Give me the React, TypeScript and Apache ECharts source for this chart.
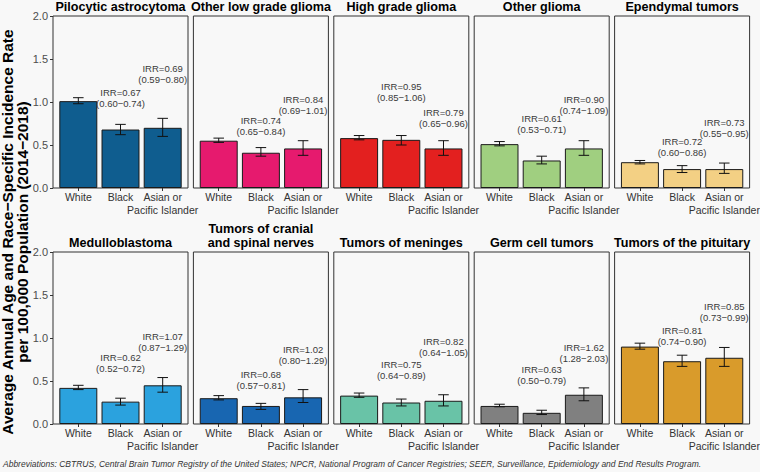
import React, { useEffect, useRef } from "react";
import * as echarts from "echarts";

const tumorTypes = [
  "Pilocytic astrocytoma",
  "Other low grade glioma",
  "High grade glioma",
  "Other glioma",
  "Ependymal tumors",
  "Medulloblastoma",
  "Tumors of cranial\nand spinal nerves",
  "Tumors of meninges",
  "Germ cell tumors",
  "Tumors of the pituitary",
];
const races = ["White", "Black", "Asian or\nPacific Islander"];

const rateWhite = [1.01, 0.55, 0.58, 0.51, 0.3, 0.42, 0.3, 0.33, 0.21, 0.9];
const lowWhite = [0.98, 0.53, 0.56, 0.49, 0.28, 0.4, 0.28, 0.31, 0.2, 0.87];
const highWhite = [1.05, 0.58, 0.61, 0.54, 0.32, 0.45, 0.33, 0.36, 0.23, 0.94];

const rateBlack = [0.68, 0.41, 0.56, 0.32, 0.22, 0.26, 0.21, 0.25, 0.13, 0.73];
const lowBlack = [0.62, 0.37, 0.5, 0.28, 0.18, 0.22, 0.17, 0.21, 0.11, 0.67];
const highBlack = [0.74, 0.47, 0.61, 0.37, 0.26, 0.3, 0.24, 0.29, 0.16, 0.8];

const rateAsian = [0.7, 0.46, 0.46, 0.46, 0.22, 0.45, 0.31, 0.27, 0.34, 0.77];
const lowAsian = [0.6, 0.38, 0.38, 0.38, 0.17, 0.37, 0.25, 0.21, 0.27, 0.67];
const highAsian = [0.81, 0.55, 0.55, 0.55, 0.29, 0.54, 0.4, 0.34, 0.42, 0.89];

const irrBlack = ["0.67", "0.74", "0.95", "0.61", "0.72", "0.62", "0.68", "0.75", "0.63", "0.81"];
const ciBlack = ["0.60−0.74", "0.65−0.84", "0.85−1.06", "0.53−0.71", "0.60−0.86", "0.52−0.72", "0.57−0.81", "0.64−0.89", "0.50−0.79", "0.74−0.90"];
const irrAsian = ["0.69", "0.84", "0.79", "0.90", "0.73", "1.07", "1.02", "0.82", "1.62", "0.85"];
const ciAsian = ["0.59−0.80", "0.69−1.01", "0.65−0.96", "0.74−1.09", "0.55−0.95", "0.87−1.29", "0.80−1.29", "0.64−1.05", "1.28−2.03", "0.73−0.99"];

// vertical anchor (in rate units) of each IRR annotation
const labelYBlack = [1.045, 0.72, 1.12, 0.74, 0.475, 0.707, 0.517, 0.63, 0.566, 1.02];
const labelYAsian = [1.325, 0.96, 0.815, 0.96, 0.7, 0.95, 0.8, 0.895, 0.83, 1.3];

const colors = [
  "#0f5d8f", "#e61a6e", "#e3201f", "#a0cf80", "#f3d084",
  "#2ba2de", "#1866b1", "#69c3a7", "#808080", "#d99b2b",
];

const footnote =
  "Abbreviations: CBTRUS, Central Brain Tumor Registry of the United States; NPCR, National Program of Cancer Registries; SEER, Surveillance, Epidemiology and End Results Program.";
const yTitle1 = "Average Annual Age and Race−Specific Incidence Rate";
const yTitle2 = "per 100,000 Population (2014−2018)";

const FONT = "'Liberation Sans', Arial, Helvetica, sans-serif";
const BG = "#f8f8f8";

export default function App() {
  const ref = useRef<HTMLDivElement>(null);
  useEffect(() => {
    if (!ref.current) return;
    const chart = echarts.init(ref.current, null, { renderer: "svg" });

    const PW = 135;
    const PH = 172;
    const lefts = [53, 193.4, 333.8, 474.2, 614.6];
    const tops = [16, 252];
    const panel = (i: number) => ({
      left: lefts[i % 5],
      top: tops[Math.floor(i / 5)],
    });
    const barW = (PW / 3.2) * 0.9;

    const grids: any[] = [];
    const xAxes: any[] = [];
    const yAxes: any[] = [];
    const series: any[] = [];
    const graphics: any[] = [];

    tumorTypes.forEach((name, i) => {
      const p = panel(i);
      const firstCol = i % 5 === 0;
      grids.push({
        left: p.left,
        top: p.top,
        width: PW,
        height: PH,
        show: true,
        borderColor: "#333",
        borderWidth: 1,
        backgroundColor: "transparent",
        containLabel: false,
      });
      xAxes.push({
        gridIndex: i,
        type: "value",
        min: 0.4,
        max: 3.6,
        splitLine: { show: false },
        axisLine: { show: false },
        axisTick: {
          show: true,
          customValues: [1, 2, 3],
          length: 3,
          lineStyle: { color: "#333", width: 1 },
        },
        axisLabel: { show: false },
      });
      yAxes.push({
        gridIndex: i,
        type: "value",
        min: 0,
        max: 2,
        interval: 0.5,
        splitLine: { show: false },
        axisLine: { show: false },
        axisTick: {
          show: firstCol,
          length: 3,
          lineStyle: { color: "#333", width: 1 },
        },
        axisLabel: {
          show: firstCol,
          formatter: (v: number) => v.toFixed(1),
          fontSize: 11,
          color: "#4d4d4d",
          margin: 5,
          fontFamily: FONT,
        },
      });

      const rates = [rateWhite[i], rateBlack[i], rateAsian[i]];
      const lows = [lowWhite[i], lowBlack[i], lowAsian[i]];
      const highs = [highWhite[i], highBlack[i], highAsian[i]];

      series.push({
        type: "bar",
        xAxisIndex: i,
        yAxisIndex: i,
        barWidth: barW,
        silent: true,
        data: rates.map((r, j) => [j + 1, r]),
        itemStyle: { color: colors[i], borderColor: "#1a1a1a", borderWidth: 1 },
        z: 2,
      });
      series.push({
        type: "custom",
        xAxisIndex: i,
        yAxisIndex: i,
        silent: true,
        z: 3,
        data: rates.map((_, j) => [j + 1, lows[j], highs[j]]),
        encode: { x: 0, y: [1, 2] },
        renderItem: (params: any, api: any) => {
          const x = api.value(0);
          const lo = api.coord([x, api.value(1)]);
          const hi = api.coord([x, api.value(2)]);
          const hw = api.size([0.125, 0])[0];
          const st = { stroke: "#111", lineWidth: 1, fill: null };
          return {
            type: "group",
            children: [
              { type: "line", shape: { x1: lo[0], y1: lo[1], x2: hi[0], y2: hi[1] }, style: st },
              { type: "line", shape: { x1: hi[0] - hw, y1: hi[1], x2: hi[0] + hw, y2: hi[1] }, style: st },
              { type: "line", shape: { x1: lo[0] - hw, y1: lo[1], x2: lo[0] + hw, y2: lo[1] }, style: st },
            ],
          };
        },
      });
      // category labels under each bar (drawn through the axis scale)
      series.push({
        type: "custom",
        xAxisIndex: i,
        yAxisIndex: i,
        silent: true,
        clip: false,
        z: 4,
        data: races.map((_, j) => [j + 1, 0]),
        renderItem: (params: any, api: any) => {
          const pt = api.coord([api.value(0), api.value(1)]);
          return {
            type: "text",
            x: pt[0],
            y: pt[1] + 2,
            style: {
              text: races[params.dataIndex],
              align: "center",
              verticalAlign: "top",
              fontSize: 10.5,
              lineHeight: 13,
              fill: "#333",
              fontFamily: FONT,
            },
          };
        },
      });
      const labels = [
        `IRR=${irrBlack[i]}\n(${ciBlack[i]})`,
        `IRR=${irrAsian[i]}\n(${ciAsian[i]})`,
      ];
      series.push({
        type: "custom",
        xAxisIndex: i,
        yAxisIndex: i,
        silent: true,
        clip: false,
        z: 4,
        data: [
          [2, labelYBlack[i]],
          [3, labelYAsian[i]],
        ],
        renderItem: (params: any, api: any) => {
          const pt = api.coord([api.value(0), api.value(1)]);
          return {
            type: "text",
            x: pt[0],
            y: pt[1],
            style: {
              text: labels[params.dataIndex],
              align: "center",
              verticalAlign: "middle",
              fontSize: 9.5,
              lineHeight: 11,
              fill: "#3a3a3a",
              fontFamily: FONT,
            },
          };
        },
      });

      graphics.push({
        type: "text",
        x: p.left + PW / 2,
        y: p.top - 1.5,
        silent: true,
        style: {
          text: name,
          align: "center",
          verticalAlign: "bottom",
          fontSize: 12.6,
          lineHeight: 14.5,
          fontWeight: "bold",
          fill: "#000",
          fontFamily: FONT,
        },
      });
    });

    [yTitle1, yTitle2].forEach((t, k) => {
      graphics.push({
        type: "text",
        x: k === 0 ? 7.5 : 22.5,
        y: 232,
        rotation: Math.PI / 2,
        silent: true,
        style: {
          text: t,
          align: "center",
          verticalAlign: "middle",
          fontSize: 15.5,
          fontWeight: "bold",
          fill: "#000",
          fontFamily: FONT,
        },
      });
    });
    graphics.push({
      type: "text",
      x: 3,
      y: 464,
      silent: true,
      style: {
        text: footnote,
        align: "left",
        verticalAlign: "middle",
        fontSize: 8.5,
        fontStyle: "italic",
        fill: "#333",
        fontFamily: FONT,
      },
    });

    chart.setOption({
      animation: false,
      backgroundColor: BG,
      textStyle: { fontFamily: FONT },
      grid: grids,
      xAxis: xAxes,
      yAxis: yAxes,
      series,
      graphic: { elements: graphics },
    });
    return () => chart.dispose();
  }, []);
  return (
    <div
      ref={ref}
      style={{ position: "absolute", left: 0, top: 0, width: 760, height: 472, background: BG }}
    />
  );
}
